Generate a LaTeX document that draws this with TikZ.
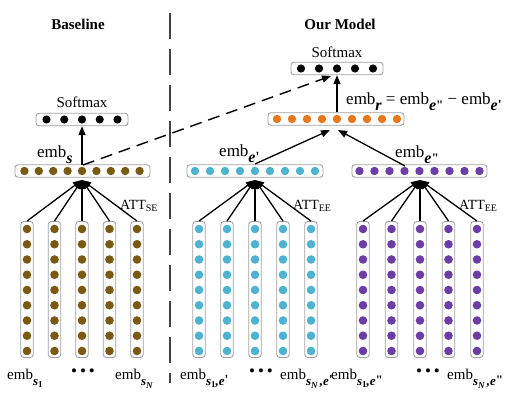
\documentclass[tikz,border=0pt]{standalone}
\usepackage{fontspec}
\setmainfont{Liberation Serif}
\usetikzlibrary{arrows.meta}
\definecolor{cbrown}{HTML}{7A5A12}
\definecolor{ccyan}{HTML}{4DB3CF}
\definecolor{corange}{HTML}{E8761A}
\definecolor{cpurple}{HTML}{6B3DA6}
\definecolor{cframe}{HTML}{A0A0A0}
\definecolor{cdiv}{HTML}{404040}
\newcommand{\lsub}[3]{\raisebox{-#2pt}{\fontsize{#1}{#1}\selectfont\bfseries\itshape #3}}
\newcommand{\lup}[3]{\raisebox{-#2pt}{\fontsize{#1}{#1}\selectfont\bfseries\upshape #3}}
\newcommand{\pr}{\raisebox{1.5pt}{\fontsize{14}{14}\selectfont\bfseries\upshape\textquotesingle}}
\newcommand{\ppr}{\raisebox{1.5pt}{\fontsize{13}{13}\selectfont\bfseries\upshape\textquotedbl}}
\begin{document}
\begin{tikzpicture}[x=1pt,y=-1pt,
  frame/.style={draw=cframe, line width=0.9pt, rounded corners=3pt, inner sep=0pt},
  hlayer/.style={frame, minimum width=#1, minimum height=12.5pt},
  vcol/.style={frame, minimum width=12.5pt, minimum height=136pt},
  arr/.style={line width=1.3pt, -{Triangle[length=9pt,width=7pt]}},
  fanc/.style={line width=2pt, -{Triangle[length=9pt,width=7pt]}},
  txt/.style={inner sep=0pt, anchor=base west},
  title/.style={inner sep=0pt, font=\fontsize{15}{18}\selectfont\bfseries},
  smtxt/.style={inner sep=0pt, anchor=base, font=\fontsize{15}{18}\selectfont},
  midemb/.style={txt, font=\fontsize{17}{20}\selectfont},
  botemb/.style={txt, font=\fontsize{15}{18}\selectfont},
  att/.style={txt, font=\fontsize{14}{16}\selectfont},
  ell/.style={inner sep=0pt, font=\fontsize{17}{18}\selectfont}
]
\useasboundingbox (0,0) rectangle (517,403);

% divider
\draw[cdiv, line width=2pt, dash pattern=on 26pt off 10pt] (170,13) -- (170,383);

% titles
\node[title] (tbase) at (78,24) {Baseline};
\node[title] (tour) at (340,24) {Our Model};

% ---------- Baseline ----------
\node[hlayer=92pt] (bsm) at (82,119.5) {};
\foreach \i in {0,...,4} \fill[black] ({46.5+17.75*\i},119.5) circle (4.1pt);
\node[smtxt] (tbsm) at (82,108) {Softmax};

\node[hlayer=135pt] (embs) at (82.5,171) {};
\foreach \i in {0,...,8} \fill[cbrown] ({24.4+14.4*\i},171) circle (4.2pt);
\node[midemb] (lembs) at (37,158) {emb\lsub{16}{6}{s}};

\coordinate (bconv) at (82,180);
\coordinate (bstart) at (82,165);
\foreach \x [count=\k] in {27,54.5,82,109.5,137}{
  \node[vcol] (bc\k) at (\x,289.5) {};
  \foreach \j in {0,...,8} \fill[cbrown] (\x,{229+15.25*\j}) circle (4.3pt);
}
\foreach \k in {1,2,4,5} \draw[arr] (bc\k.north) -- (bconv);
\draw[fanc] (bc3.north) -- (bconv);
\draw[arr] (bstart) -- (bsm.south);
\node[att] (attse) at (120,210) {ATT\raisebox{-2pt}{\fontsize{10}{10}\selectfont SE}};

% ---------- Our model ----------
\node[hlayer=92pt] (osm) at (337,68.5) {};
\foreach \i in {0,...,4} \fill[black] ({301+18*\i},68.5) circle (4.1pt);
\node[smtxt] (tosm) at (337,58) {Softmax};

\node[hlayer=136pt] (embr) at (336,119) {};
\foreach \i in {0,...,8} \fill[corange] ({277+15*\i},119) circle (4.2pt);
\node[midemb] (lembr) at (346,105) {emb\lsub{16}{6}{r} = emb\lsub{16}{6}{e\ppr} − emb\lsub{16}{6}{e\pr}};

\node[hlayer=136pt] (embe1) at (255,171) {};
\foreach \i in {0,...,8} \fill[ccyan] ({195+15*\i},171) circle (4.2pt);
\node[midemb] (lembe1) at (219,157) {emb\lsub{16}{6}{e\pr}};

\node[hlayer=135pt] (embe2) at (419.5,171) {};
\foreach \i in {0,...,8} \fill[cpurple] ({359.5+15*\i},171) circle (4.2pt);
\node[midemb] (lembe2) at (395,158) {emb\lsub{16}{6}{e\ppr}};

\coordinate (cconv) at (255,180);
\coordinate (pconv) at (420,180);
\foreach \x [count=\k] in {199,227,255,283,311}{
  \node[vcol] (cc\k) at (\x,289.5) {};
  \foreach \j in {0,...,8} \fill[ccyan] (\x,{229+15.25*\j}) circle (4.3pt);
}
\foreach \x [count=\k] in {363,391.5,420,448.5,477}{
  \node[vcol] (pc\k) at (\x,289.5) {};
  \foreach \j in {0,...,8} \fill[cpurple] (\x,{229+15.25*\j}) circle (4.3pt);
}
\foreach \k in {1,2,4,5} {\draw[arr] (cc\k.north) -- (cconv); \draw[arr] (pc\k.north) -- (pconv);}
\draw[fanc] (cc3.north) -- (cconv);
\draw[fanc] (pc3.north) -- (pconv);
\node[att] (attee1) at (293,210) {ATT\raisebox{-2pt}{\fontsize{10}{10}\selectfont EE}};
\node[att] (attee2) at (459,210) {ATT\raisebox{-2pt}{\fontsize{10}{10}\selectfont EE}};

\coordinate (e1start) at (255,164);
\coordinate (e2start) at (405,166);
\coordinate (rtip1) at (330,130);
\coordinate (rtip2) at (338,130);
\draw[arr] (e1start) -- (rtip1);
\draw[arr] (e2start) -- (rtip2);
\draw[arr] (embr.north -| osm.south) -- (osm.south);

% dashed link
\coordinate (dstart) at (83,165);
\coordinate (dtip) at (331,76);
\draw[line width=1.4pt, dash pattern=on 12pt off 7pt, -{Triangle[length=9pt,width=7pt]}] (dstart) -- (dtip);

% bottom labels
\node[botemb] (bl1) at (7,380) {emb\lsub{13}{6}{s\lup{9}{2}{1}}};
\node[ell] (bd1) at (83,373) {\textbullet\hspace{3pt}\textbullet\hspace{3pt}\textbullet};
\node[botemb] (bl2) at (115,380) {emb\lsub{13}{6}{s\lsub{9}{3}{N}}};
\node[botemb] (cl1) at (180,380) {emb\lsub{13}{6}{s\lup{9}{2}{1},e\pr}};
\node[ell] (cd1) at (261,373) {\textbullet\hspace{3pt}\textbullet\hspace{3pt}\textbullet};
\node[botemb] (cl2) at (280,380) {emb\lsub{13}{6}{s\lsub{9}{3}{N}\,,e\pr}};
\node[botemb] (pl1) at (331,380) {emb\lsub{13}{6}{s\lup{9}{2}{1},e\ppr}};
\node[ell] (pd1) at (428,373) {\textbullet\hspace{3pt}\textbullet\hspace{3pt}\textbullet};
\node[botemb] (pl2) at (447,380) {emb\lsub{13}{6}{s\lsub{9}{3}{N}\,,e\ppr}};
\end{tikzpicture}
\end{document}
